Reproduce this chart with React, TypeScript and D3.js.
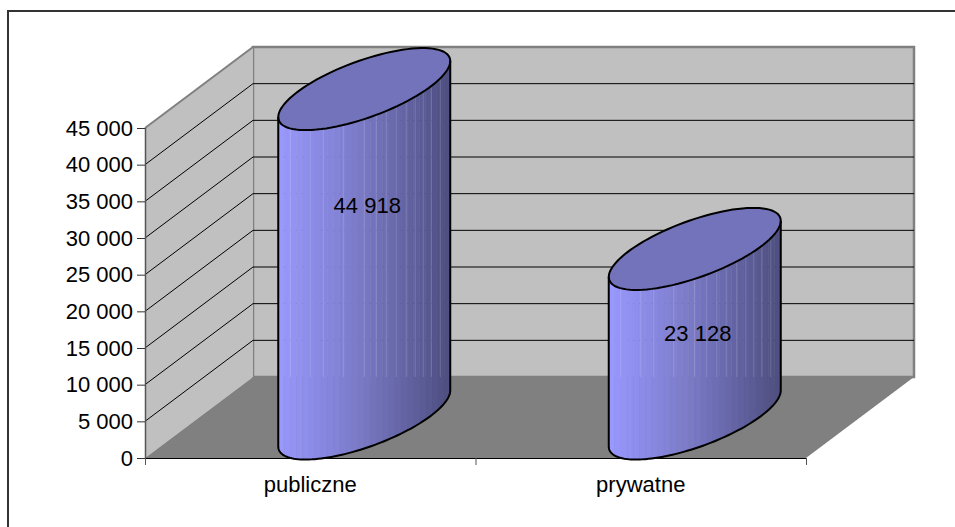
import React from "react";
import * as d3 from "d3";

const categories = ["publiczne", "prywatne"];
const values = [44918, 23128];
const valueLabels = ["44 918", "23 128"];
const yTicks = [0, 5000, 10000, 15000, 20000, 25000, 30000, 35000, 40000, 45000];
const yTickLabels = ["0", "5 000", "10 000", "15 000", "20 000", "25 000", "30 000", "35 000", "40 000", "45 000"];

const W = 955, H = 527;
const DX = 108, DY = -81;
const FONT = "Liberation Sans, Arial, sans-serif";
const FS = 22;
const labelShift = [-48, 0];
const seamOffsets = [12, 32, 45, 65, 86, 98, 108, 118, 128, 137, 145, 153, 162];

const y = d3.scaleLinear().domain([0, 45000]).range([458, 128]);
const x = d3.scaleBand<string>().domain(categories).range([145, 806]).paddingInner(0).paddingOuter(0);
const shade = d3.scaleLinear<string>().domain([0, 0.5, 1]).range(["#9999ff", "#7878c4", "#4d4d80"]);

const RX = 86, KC = -28, KS = 30;
const pt = (cx: number, cy: number, t: number): [number, number] => [
  cx + RX * Math.cos(t),
  cy + KC * Math.cos(t) + KS * Math.sin(t),
];
const line = d3.line<[number, number]>();
const ts = (a: number, b: number, n: number) => d3.range(n + 1).map((i) => a + ((b - a) * i) / n);
const angle = (u: number) => Math.acos(Math.max(-1, Math.min(1, u)));

function Cylinder({ cat, value }: { cat: string; value: number }) {
  const cx = (x(cat) as number) + x.bandwidth() / 2 + 54;
  const base = y(0) + DY / 2 + 1;
  const top = y(value) + DY / 2 + 1;
  const N = 28;
  const strips = d3.range(N).map((i) => {
    const a = cx - RX + (2 * RX * i) / N;
    const b = a + (2 * RX) / N;
    const ta = angle((a - cx) / RX);
    const tb = angle((b - cx) / RX);
    const p = [...ts(ta, tb, 3).map((t) => pt(cx, base, t)), ...ts(tb, ta, 3).map((t) => pt(cx, top, t))] as [number, number][];
    return { d: line(p) + "Z", fill: shade((i + 0.5) / N) };
  });
  const rim = ts(0, 2 * Math.PI, 96).map((t) => pt(cx, top, t));
  const topL = pt(cx, top, Math.PI), topR = pt(cx, top, 0);
  const bottomArc = ts(Math.PI, 0, 72).map((t) => pt(cx, base, t));
  const outlineD = line([topL, ...bottomArc, topR] as [number, number][]);
  const floorY = y(0) + DY;
  const seams = seamOffsets.map((o) => {
    const sx = cx - RX + o;
    return { sx, y1: pt(cx, top, angle((sx - cx) / RX))[1], y2: floorY };
  });
  return (
    <g>
      {strips.map((s, i) => (
        <path key={i} d={s.d} fill={s.fill} stroke={s.fill} strokeWidth={0.4} />
      ))}
      {seams.map((s) => (
        <line key={s.sx} x1={s.sx} x2={s.sx} y1={s.y1} y2={s.y2} stroke="#fff" strokeOpacity={0.16} strokeWidth={1} />
      ))}
      <path d={(line(rim) as string) + "Z"} fill="#7373bb" stroke="none" />
      <path d={outlineD as string} fill="none" stroke="#000" strokeWidth={2} strokeLinejoin="round" />
      <path d={(line(rim) as string) + "Z"} fill="none" stroke="#000" strokeWidth={2} />
    </g>
  );
}

export default function App() {
  const [x0, x1] = x.range();
  const y0 = y(0), yT = y(45000);
  return (
    <svg width={W} height={H} style={{ position: "absolute", left: 0, top: 0 }} fontFamily={FONT}>
      <rect x={0} y={0} width={W} height={H} fill="#fff" />
      <path d={`M8,${H}V11H${W}`} fill="none" stroke="#333" strokeWidth={2} />
      <rect x={x0 + DX} y={yT + DY} width={x1 - x0} height={y0 - yT} fill="#c0c0c0" stroke="#808080" strokeWidth={2.5} />
      <path d={`M${x0},${y0}L${x0},${yT}L${x0 + DX},${yT + DY}L${x0 + DX},${y0 + DY}Z`} fill="#c0c0c0" stroke="none" />
      <path d={`M${x0},${yT}L${x0 + DX},${yT + DY}`} stroke="#808080" strokeWidth={2} fill="none" />
      <path d={`M${x0},${y0}L${x1},${y0}L${x1 + DX},${y0 + DY}L${x0 + DX},${y0 + DY}Z`} fill="#808080" />
      {yTicks.slice(1, -1).map((t) => (
        <path key={t} d={`M${x0},${y(t)}L${x0 + DX},${y(t) + DY}L${x1 + DX},${y(t) + DY}`} fill="none" stroke="#000" strokeWidth={1} />
      ))}
      <path d={`M${x0 + 0.5},${yT}V${y0}`} fill="none" stroke="#555" strokeWidth={1.5} />
      <path d={`M${x0},${y0 + 0.5}H${x1}`} fill="none" stroke="#000" strokeWidth={1} />
      {yTicks.map((t, i) => (
        <g key={t}>
          <line x1={x0 - 8} x2={x0} y1={y(t) + 0.5} y2={y(t) + 0.5} stroke="#333" />
          <text x={x0 - 12} y={y(t) + 7.5} fontSize={FS} textAnchor="end" fill="#000">{yTickLabels[i]}</text>
        </g>
      ))}
      {[x0, x0 + x.bandwidth(), x1].map((v) => (
        <line key={v} x1={v + 0.5} x2={v + 0.5} y1={y0} y2={y0 + 7} stroke="#555" />
      ))}
      {categories.map((c) => (
        <text key={c} x={(x(c) as number) + x.bandwidth() / 2} y={492} fontSize={FS} textAnchor="middle" fill="#000">{c}</text>
      ))}
      {categories.map((c, i) => (
        <Cylinder key={c} cat={c} value={values[i]} />
      ))}
      {categories.map((c, i) => (
        <text key={c} x={(x(c) as number) + x.bandwidth() / 2 + 57} y={(y(0) + y(values[i])) / 2 + DY / 2 + labelShift[i] + 8} fontSize={FS} textAnchor="middle" fill="#000">{valueLabels[i]}</text>
      ))}
    </svg>
  );
}
